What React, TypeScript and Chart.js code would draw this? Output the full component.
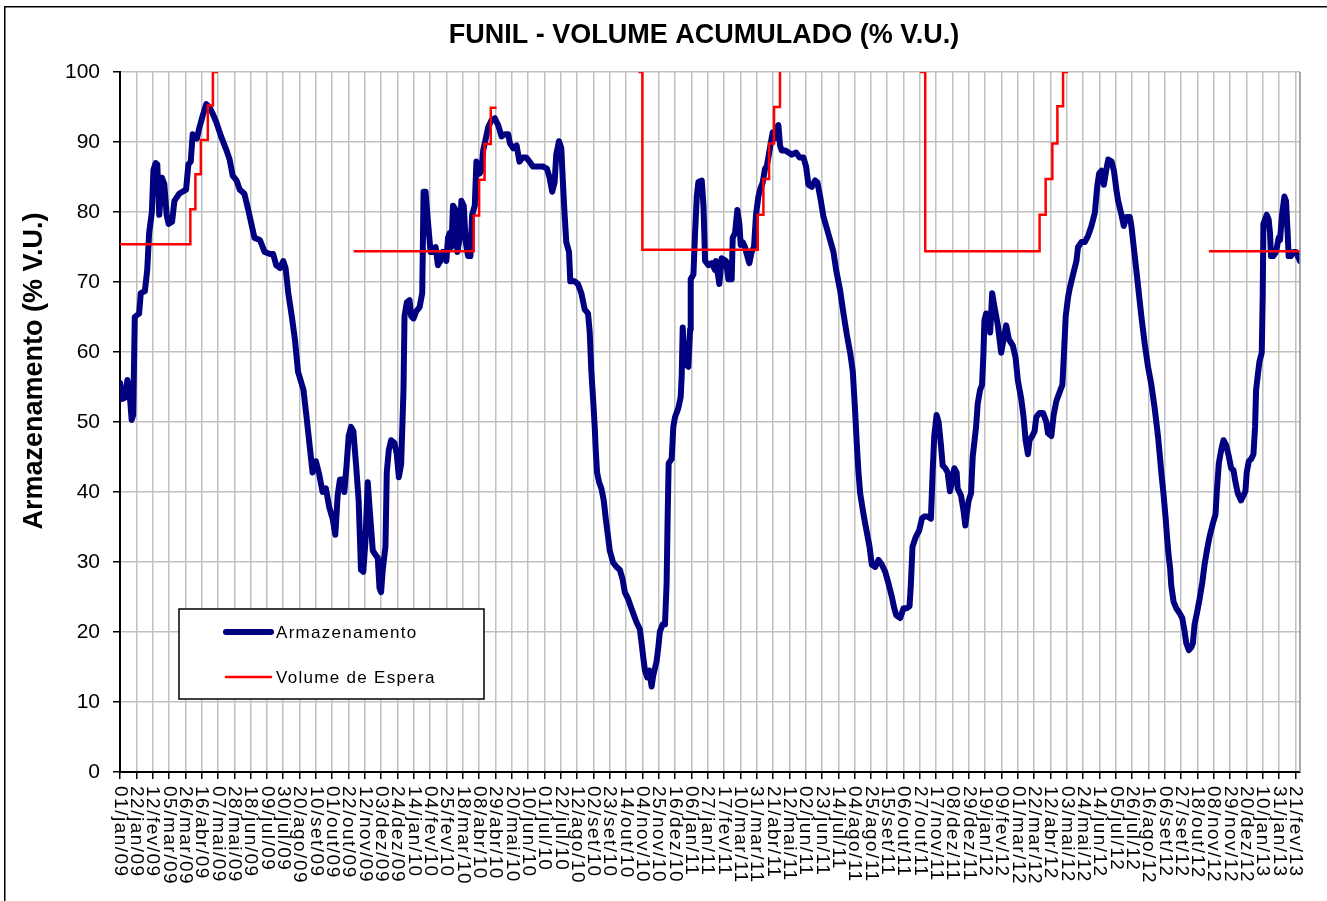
import React, { useEffect, useRef } from 'react';
import { Chart, registerables } from 'chart.js';

Chart.register(...registerables);

const TITLE = 'FUNIL - VOLUME ACUMULADO (% V.U.)';
const Y_TITLE = 'Armazenamento (% V.U.)';
const SERIES_ARM = 'Armazenamento';
const SERIES_ESP = 'Volume de Espera';

// days counted from 01/jan/09
const X_MIN = 0;
const X_MAX = 1518;
const X_STEP = 21;
const Y_MIN = 0;
const Y_MAX = 100;
const Y_STEP = 10;

const X_TICK_LABELS = [
  '01/jan/09', '22/jan/09', '12/fev/09', '05/mar/09', '26/mar/09', '16/abr/09', '07/mai/09', '28/mai/09',
  '18/jun/09', '09/jul/09', '30/jul/09', '20/ago/09', '10/set/09', '01/out/09', '22/out/09', '12/nov/09',
  '03/dez/09', '24/dez/09', '14/jan/10', '04/fev/10', '25/fev/10', '18/mar/10', '08/abr/10', '29/abr/10',
  '20/mai/10', '10/jun/10', '01/jul/10', '22/jul/10', '12/ago/10', '02/set/10', '23/set/10', '14/out/10',
  '04/nov/10', '25/nov/10', '16/dez/10', '06/jan/11', '27/jan/11', '17/fev/11', '10/mar/11', '31/mar/11',
  '21/abr/11', '12/mai/11', '02/jun/11', '23/jun/11', '14/jul/11', '04/ago/11', '25/ago/11', '15/set/11',
  '06/out/11', '27/out/11', '17/nov/11', '08/dez/11', '29/dez/11', '19/jan/12', '09/fev/12', '01/mar/12',
  '22/mar/12', '12/abr/12', '03/mai/12', '24/mai/12', '14/jun/12', '05/jul/12', '26/jul/12', '16/ago/12',
  '06/set/12', '27/set/12', '18/out/12', '08/nov/12', '29/nov/12', '20/dez/12', '10/jan/13', '31/jan/13',
  '21/fev/13',
];

// [day, % V.U.]
const ARM_2009: [number, number][] = [
  [0, 55.6], [3, 53.3], [6.5, 53.5], [9.5, 56], [12.5, 54], [15, 50.3], [17, 51], [19, 65], [24.6, 65.5],
  [26.7, 68.4], [32, 68.7], [35, 71.7], [37.5, 77], [41, 80], [43, 86], [46, 87], [48, 86.8], [50.5, 79.6],
  [54, 84.9], [57, 84], [60, 79.6], [62.5, 78.3], [67, 78.6], [70, 81.6], [76, 82.6], [85, 83.2], [88, 86.8],
  [91, 87.2], [93.5, 91.1], [99, 90.5], [102, 92], [106.5, 93.8], [111, 95.4], [115, 95], [119.5, 94],
  [124, 92.8], [130, 90.8], [137, 88.8], [141, 87.5], [145, 85.2], [150, 84.5], [154, 83.2], [160, 82.6],
  [165, 80.3], [169, 78.3], [173, 76.3], [180, 76], [186, 74.3], [193, 74], [197, 74], [201, 72.4], [206, 72],
  [210, 73], [213, 72], [216.5, 68.4], [221, 65.1], [225, 61.8], [229, 57.2], [236, 54.6], [240, 50.7],
  [247.7, 42.8], [252, 44.4], [256.3, 42.5], [260.6, 40], [264.9, 40.5], [269.2, 37.8], [273.5, 36.2],
  [277, 33.9], [280, 39.5], [283, 41.8], [286.4, 41.8], [288.6, 40], [291.6, 44], [294.2, 48], [297.2, 49.3],
  [300.2, 48.7], [303.6, 44], [307, 38.8], [308.8, 32.9], [310, 28.9], [313, 28.6], [315.7, 32.9],
  [318.7, 41.4], [321.7, 36.8], [325.2, 31.6], [329.5, 30.9], [331.6, 30.6], [333.8, 26.3], [335.9, 25.7],
  [338, 28.9], [341.5, 32.2], [343.2, 42.8], [345.8, 46], [348.8, 47.4], [353.1, 47], [356.1, 45.4],
  [358.7, 42.1], [361.7, 44], [364.7, 54.6],
];

const ARM_2010: [number, number][] = [
  [366, 65.1], [369, 67.1], [372.5, 67.4], [374.6, 65.1], [377.6, 64.8], [381, 65.8], [385.4, 66.4],
  [388.8, 68.4], [390.5, 82.9], [393.1, 82.9], [394.9, 80.3], [397.4, 77], [399.6, 74.3], [403.5, 74.3],
  [406, 75], [409, 72.4], [412.1, 73], [415.5, 74.3], [419.8, 73], [422, 76.3], [424.1, 77], [426.3, 75],
  [428.4, 80.9], [431.9, 80.3], [434, 74.3], [437, 76.3], [439.2, 81.6], [442.2, 80.9], [444.8, 75.7],
  [447.8, 73.7], [450.8, 73.7], [453, 79.6], [456.4, 80.9], [458.5, 87.2], [460.7, 85.9], [462.8, 85.5],
  [465, 85.9], [467.2, 88.8], [470.6, 90.5], [473.6, 92.1], [477.9, 93.1], [482.2, 93.4], [486.5, 92.4],
  [490.8, 90.8], [495.1, 91.1], [499.4, 91.1], [501.6, 89.8], [505.9, 89.1], [510.2, 89.5], [513.9, 87.2],
  [518.2, 87.8], [522.5, 87.8], [526.8, 87.2], [531.1, 86.5], [537.6, 86.5], [544, 86.5], [549.2, 86.2],
  [552.6, 84.9], [556, 82.9], [559.1, 84.2], [561.2, 88.2], [564.7, 90.1], [567.7, 89.1], [569.8, 84.2],
  [572, 79.6], [574.1, 75.7], [577.6, 74.3], [579.3, 70.1], [584.9, 70.1], [589.2, 69.7], [593.5, 68.4],
  [597.8, 66.1], [602.1, 65.5], [604.3, 62.8], [606.4, 57.2], [608.6, 53.3], [610.7, 49.3], [612, 46],
  [613.7, 42.8], [616.3, 41.4], [619.3, 40.5], [622.3, 38.8], [624.9, 36.2], [627.9, 33.6], [630.1, 31.6],
  [634.4, 29.9], [638.7, 29.3], [643, 28.9], [646.4, 27.6], [649.4, 25.7], [653.7, 24.7], [656.8, 23.7],
  [661.1, 22.4], [664.5, 21.4], [668.8, 20.4], [671, 18.4], [673.1, 16.4], [675.3, 14.5], [678.3, 13.5],
  [680.9, 14.5], [683.9, 12.2], [686, 13.8], [690.3, 15.8], [692.5, 17.8], [694.6, 20.1], [698.1, 21.1],
  [701.1, 21.1], [703.2, 27], [704.5, 36.2], [705.8, 44.1], [709.7, 44.7], [711.8, 49.3], [714, 50.7],
  [718.3, 52], [721.3, 53.6], [722.6, 56.6], [723.9, 63.5], [725.6, 59.9], [728.2, 58.2],
];

const ARM_2011: [number, number][] = [
  [731.2, 57.9], [733.4, 63.2], [734.2, 70.4], [737.7, 71.1], [739.8, 77], [742, 82.2], [744.1, 84.3],
  [748.4, 84.5], [750.6, 80.9], [752.7, 73], [757, 72.4], [761.3, 72.7], [765.6, 71.7], [766.7, 73],
  [771, 69.7], [774, 73.4], [779.6, 73], [782.6, 70.4], [786.9, 70.4], [788.2, 76.3], [791.2, 77],
  [794.2, 80.3], [796.8, 78.3], [798.5, 75.3], [801, 75.7], [804, 75], [806.2, 74], [809.6, 72.7],
  [812.6, 74.3], [815.6, 75], [818.2, 79.6], [821.2, 82.2], [823.4, 83.2], [826.8, 84.2], [829.8, 86.2],
  [832, 86.5], [834.1, 87.8], [837.1, 89.8], [839.7, 91.4], [842.7, 90.5], [844.8, 92.1], [847, 92.4],
  [849.1, 89.5], [851.3, 88.8], [855.6, 88.8], [859.9, 88.5], [864.2, 88.2], [869.7, 88.5], [874, 87.8],
  [879.2, 87.8], [882.6, 86.5], [885.6, 83.9], [889.9, 83.6], [894.2, 84.5], [897.2, 84.2], [900.7, 82.2],
  [905, 79.3], [908.4, 78], [913.5, 76], [917.8, 74.3], [921.3, 71.7], [926.4, 68.8], [930.7, 65.5],
  [935, 62.5], [939.3, 59.9], [942.7, 57.2], [945.8, 51.3], [947.9, 46.7], [950, 42.8], [952.2, 39.8],
  [956.5, 36.8], [960.8, 34.2], [964.2, 32.2], [967.2, 29.6], [971.5, 29.3], [975.8, 30.3], [980.1, 29.6],
  [984.4, 28.6], [988.4, 27], [993, 25], [996, 23.4], [998.6, 22.4], [1003.7, 22], [1008, 23.4],
  [1012.3, 23.4], [1015.7, 23.7], [1017.5, 27], [1019.5, 32.2], [1023.8, 33.6], [1028.1, 34.5],
  [1031.6, 36.2], [1034.6, 36.5], [1038.9, 36.5], [1043.2, 36.2], [1045.4, 42.8], [1047.5, 48],
  [1050.5, 51], [1053.1, 50], [1056.1, 46.7], [1058.3, 43.8], [1061.7, 43.4], [1064.7, 42.8],
  [1067.7, 40.1], [1070.3, 41.4], [1073.3, 43.4], [1076.3, 42.8], [1077.6, 40.5], [1081.9, 39.5],
  [1084.9, 37.5], [1087.5, 35.2], [1089.2, 36.8], [1091.8, 38.8],
];

const ARM_2012: [number, number][] = [
  [1094.8, 39.8], [1097, 45.1], [1101.3, 49.3], [1103.4, 52.6], [1106.5, 54.6], [1109, 55.3],
  [1110.8, 59.9], [1112, 64.5], [1114.2, 65.5], [1117.6, 65.1], [1119.4, 62.8], [1122, 68.4], [1125, 66.4],
  [1129.3, 63.8], [1133.6, 59.9], [1136.6, 61.8], [1140, 63.8], [1143.5, 61.8], [1148.6, 60.9],
  [1152.1, 59.2], [1155.1, 55.9], [1159.4, 53.3], [1162.4, 50.7], [1165, 47.4], [1168, 45.4],
  [1170.1, 47.4], [1173.6, 48], [1176.6, 48.7], [1178.7, 50.7], [1183, 51.3], [1187.4, 51.3],
  [1191.7, 50], [1193.8, 48.4], [1198.1, 48], [1201.1, 51], [1204.6, 53], [1208.9, 54.3], [1212.3, 55.3],
  [1214.1, 59.2], [1216.6, 65.1], [1219.6, 67.8], [1221.8, 69.1], [1226.1, 71.1], [1230.4, 73],
  [1232.5, 75], [1236.8, 75.7], [1241.1, 75.7], [1245.4, 76.6], [1249.7, 78], [1254.1, 79.9],
  [1257.1, 83.6], [1259.6, 85.5], [1262.7, 85.9], [1265.7, 83.9], [1269.1, 86.2], [1271.3, 87.5],
  [1275.6, 87.2], [1278.6, 85.9], [1282, 83], [1284, 81.6], [1288.3, 79.6], [1291.3, 78], [1294.7, 79.3],
  [1299, 79.3], [1301.1, 78], [1305.4, 73.7], [1309.7, 69.4], [1313.9, 65.1], [1318.2, 61.2],
  [1322.5, 57.9], [1326.8, 55.3], [1331, 52], [1335.3, 48], [1337.5, 45.4], [1339.6, 42.8], [1342.6, 39.5],
  [1345.2, 36.2], [1346.9, 33.6], [1349, 30.9], [1351.1, 28.9], [1352.4, 26.6], [1355.4, 24.3],
  [1358.8, 23.4], [1363.1, 22.7], [1366.5, 22], [1369.5, 20.1], [1371.7, 18.4], [1375.1, 17.4],
  [1378.1, 17.8], [1380.2, 18.4], [1382.4, 21.1], [1385.4, 22.7], [1388.8, 24.7], [1392.2, 27],
  [1395.2, 29.6], [1398.2, 31.6], [1401.6, 33.6], [1405.9, 35.5], [1409.3, 36.8], [1411, 40.1],
  [1413.6, 44.1], [1416.6, 46], [1419.6, 47.4], [1423, 46.7], [1426.4, 45.1], [1429.4, 43.4],
  [1432.4, 43.1], [1435, 41.4], [1438, 39.8], [1442.2, 38.8], [1445.2, 39.5], [1447.8, 40.1],
  [1449.5, 42.8], [1452.1, 44.4], [1455.1, 44.7],
];

const ARM_2013: [number, number][] = [
  [1458.1, 45.4], [1460.2, 49.3], [1461.5, 54.6], [1463.6, 56.6], [1465.8, 58.6], [1468.8, 59.9],
  [1470, 67.8], [1470.9, 78.3], [1473, 78.9], [1475.2, 79.6], [1477.7, 78.9], [1479.4, 77], [1480.7, 73.7],
  [1483.7, 73.7], [1487.1, 74.3], [1490.6, 76.3], [1492.3, 76], [1494.9, 79.6], [1497.9, 82.2],
  [1500, 81.6], [1502.1, 77], [1503.4, 73.7], [1506.4, 73.7], [1509.4, 74.3], [1512.8, 74.3], [1518, 73],
];

// step starts [day, % V.U.]; null = no flood-control volume
const ESPERA: [number, number | null][] = [
  [0, 75.4], [90.5, 80.4], [97, 85.4], [104, 90.3], [113, 95.2], [119.5, 100], [126, 100], [127, null],
  [300.6, 74.4], [455, 79.5], [462, 84.6], [469, 89.7], [477, 94.9], [484.4, 94.9], [485, null],
  [667, 100], [672, 74.6], [820.4, 79.6], [827.7, 84.7], [835, 89.8], [841.4, 95], [849, 100], [850, 100], [851, null],
  [1029.4, 100], [1035.9, 74.4], [1183, 79.6], [1190.8, 84.7], [1199.4, 89.8], [1205.9, 95.1], [1213.2, 100], [1219.6, 100], [1220, null],
  [1400.8, 74.4], [1518, 74.4],
];

const FONT = '"Liberation Sans", Arial, Helvetica, sans-serif';

const decorPlugin = {
  id: 'decor',
  beforeDraw(chart: any) {
    const ctx = chart.ctx as CanvasRenderingContext2D;
    ctx.save();
    ctx.fillStyle = '#ffffff';
    ctx.fillRect(0, 0, chart.width, chart.height);
    ctx.strokeStyle = '#000000';
    ctx.lineWidth = 1.5;
    ctx.strokeRect(4.75, 6.75, chart.width + 20, chart.height + 20);
    ctx.restore();
  },
  afterDraw(chart: any) {
    const ctx = chart.ctx as CanvasRenderingContext2D;
    const ca = chart.chartArea;
    const xs = chart.scales.x;
    ctx.save();

    // right border of plot area
    ctx.strokeStyle = '#8c8c8c';
    ctx.lineWidth = 1.5;
    ctx.beginPath();
    ctx.moveTo(ca.right, ca.top);
    ctx.lineTo(ca.right, ca.bottom);
    ctx.stroke();

    ctx.fillStyle = '#000000';
    // chart title
    ctx.font = `bold 27px ${FONT}`;
    ctx.textAlign = 'center';
    ctx.textBaseline = 'middle';
    ctx.fillText(TITLE, (ca.left + ca.right) / 2 - 6, 36);

    // y axis title
    ctx.save();
    ctx.translate(35, 371);
    ctx.rotate(-Math.PI / 2);
    ctx.font = `bold 27px ${FONT}`;
    ctx.textAlign = 'center';
    ctx.textBaseline = 'middle';
    ctx.fillText(Y_TITLE, 0, 0);
    ctx.restore();

    // x tick labels, rotated clockwise
    ctx.font = `19px ${FONT}`;
    (ctx as any).letterSpacing = '1.5px';
    xs.ticks.forEach((t: any, i: number) => {
      const label = X_TICK_LABELS[i];
      if (!label) return;
      const px = xs.getPixelForValue(t.value);
      ctx.save();
      ctx.translate(px, ca.bottom + 14);
      ctx.rotate(Math.PI / 2);
      ctx.textAlign = 'left';
      ctx.textBaseline = 'middle';
      ctx.fillText(label, 0, 0);
      ctx.restore();
    });

    // legend box inside plot
    const lx = ca.left + 59;
    const ly = ca.top + 537;
    const lw = 305;
    const lh = 90;
    ctx.fillStyle = '#ffffff';
    ctx.fillRect(lx, ly, lw, lh);
    ctx.strokeStyle = '#000000';
    ctx.lineWidth = 1.5;
    ctx.strokeRect(lx, ly, lw, lh);
    const items = [SERIES_ARM, SERIES_ESP];
    items.forEach((name, k) => {
      const ds = chart.data.datasets.find((d: any) => d.label === name);
      if (!ds) return;
      const yy = ly + 23 + k * 45;
      ctx.strokeStyle = ds.borderColor;
      ctx.lineWidth = ds.borderWidth;
      ctx.lineCap = 'round';
      ctx.beginPath();
      ctx.moveTo(lx + 47, yy);
      ctx.lineTo(lx + 92, yy);
      ctx.stroke();
      ctx.fillStyle = '#000000';
      ctx.font = `17px ${FONT}`;
      (ctx as any).letterSpacing = '1.3px';
      ctx.textAlign = 'left';
      ctx.textBaseline = 'middle';
      ctx.fillText(name, lx + 97, yy + 1);
    });
    (ctx as any).letterSpacing = '0px';
    ctx.restore();
  },
};

export default function App() {
  const ref = useRef<HTMLCanvasElement | null>(null);

  useEffect(() => {
    if (!ref.current) return;
    const arm = [...ARM_2009, ...ARM_2010, ...ARM_2011, ...ARM_2012, ...ARM_2013];
    const chart = new Chart(ref.current, {
      type: 'line',
      data: {
        datasets: [
          {
            label: SERIES_ESP,
            data: ESPERA.map(([x, y]) => ({ x, y })) as any,
            borderColor: '#ff0000',
            backgroundColor: '#ff0000',
            borderWidth: 2.5,
            pointRadius: 0,
            stepped: 'before',
            spanGaps: false,
            fill: false,
            order: 0,
          },
          {
            label: SERIES_ARM,
            data: arm.map(([x, y]) => ({ x, y })),
            borderColor: '#000080',
            backgroundColor: '#000080',
            borderWidth: 6,
            pointRadius: 0,
            tension: 0,
            borderJoinStyle: 'round',
            borderCapStyle: 'round',
            fill: false,
            order: 1,
          },
        ],
      },
      options: {
        responsive: false,
        animation: false,
        devicePixelRatio: 1,
        events: [],
        layout: { padding: { left: 0, top: 72, right: 27, bottom: 0 } },
        plugins: {
          legend: { display: false },
          title: { display: false },
          tooltip: { enabled: false },
        },
        scales: {
          x: {
            type: 'linear',
            min: X_MIN,
            max: X_MAX,
            afterFit: (s: any) => { s.height = 129; },
            ticks: { display: false, stepSize: X_STEP, includeBounds: false },
            grid: { color: '#c0c0c0', lineWidth: 1.5, tickColor: '#000000', tickLength: 7, tickWidth: 1.5 },
            border: { display: true, color: '#000000', width: 2 },
          },
          y: {
            min: Y_MIN,
            max: Y_MAX,
            afterFit: (s: any) => { s.width = 120; },
            ticks: {
              stepSize: Y_STEP,
              color: '#000000',
              padding: 13,
              font: { family: FONT, size: 21 },
            },
            grid: { color: '#c0c0c0', lineWidth: 1.5, tickColor: '#000000', tickLength: 7, tickWidth: 1.5 },
            border: { display: true, color: '#000000', width: 2 },
          },
        },
      },
      plugins: [decorPlugin],
    });
    return () => chart.destroy();
  }, []);

  return (
    <div style={{ position: 'absolute', left: 0, top: 0, width: 1327, height: 901 }}>
      <canvas ref={ref} width={1327} height={901} style={{ display: 'block' }} />
    </div>
  );
}
